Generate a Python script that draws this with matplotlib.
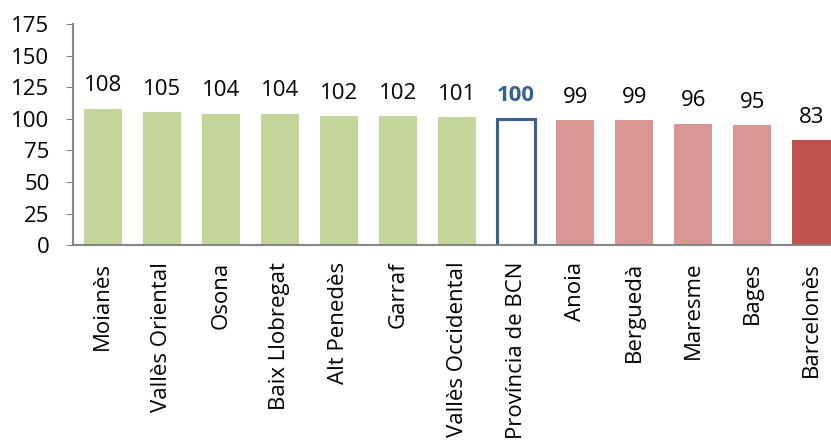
import matplotlib.pyplot as plt
import numpy as np

plt.rcParams['font.family'] = ['Open Sans', 'DejaVu Sans']

comarques = ['Moianès', 'Vallès Oriental', 'Osona', 'Baix Llobregat', 'Alt Penedès',
             'Garraf', 'Vallès Occidental', 'Província de BCN', 'Anoia', 'Berguedà',
             'Maresme', 'Bages', 'Barcelonès']
valors = [108, 105, 104, 104, 102, 102, 101, 100, 99, 99, 96, 95, 83]

verd = '#C4D79B'
rosa = '#DA9694'
vermell = '#C0504D'
blau = '#366092'

colors = []
for nom, v in zip(comarques, valors):
    if nom == 'Província de BCN':
        colors.append('white')
    elif nom == 'Barcelonès':
        colors.append(vermell)
    elif v > 100:
        colors.append(verd)
    else:
        colors.append(rosa)

fig = plt.figure(figsize=(8.31, 4.44), dpi=100)
ax = fig.add_axes([0.088, 0.448, 0.912, 0.498])

x = np.arange(len(comarques))
bars = ax.bar(x, valors, width=0.645, color=colors, zorder=2)
i_bcn = comarques.index('Província de BCN')
bars[i_bcn].set_edgecolor(blau)
bars[i_bcn].set_linewidth(2.2)

for i, v in enumerate(valors):
    if i == i_bcn:
        ax.annotate(str(v), (i, v), xytext=(0, 9), textcoords='offset points',
                    ha='center', va='bottom', fontsize=16, fontweight='bold', color=blau)
    else:
        ax.annotate(str(v), (i, v), xytext=(0, 9), textcoords='offset points',
                    ha='center', va='bottom', fontsize=16, color='black')

ax.set_ylim(0, 175)
ax.set_yticks(range(0, 176, 25))
ax.set_xlim(-0.5, 12.33)
ax.set_xticks(x)
ax.set_xticklabels(comarques, rotation=90, fontsize=16)
ax.tick_params(axis='x', length=0, pad=12)
ax.tick_params(axis='y', labelsize=16, length=5, color='#868686', direction='out', pad=12)

for s in ['top', 'right']:
    ax.spines[s].set_visible(False)
ax.spines['left'].set_color('#868686')
ax.spines['bottom'].set_color('#868686')
ax.spines['left'].set_linewidth(1.5)
ax.spines['bottom'].set_linewidth(1.5)

fig.savefig('out.png', dpi=100)
